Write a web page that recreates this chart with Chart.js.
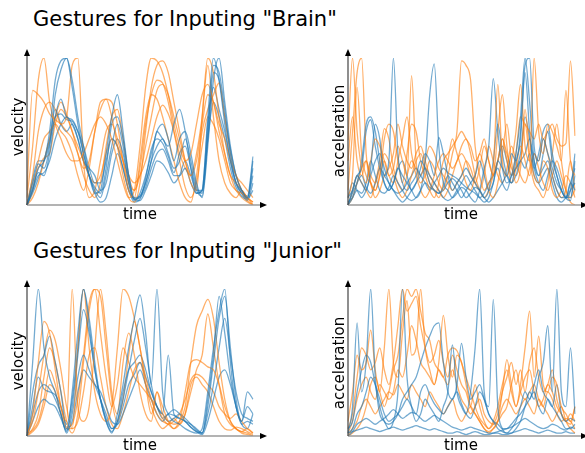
<!DOCTYPE html>
<html><head><meta charset="utf-8">
<script src="https://cdn.jsdelivr.net/npm/chart.js@4/dist/chart.umd.min.js"></script>
<style>
html,body{margin:0;padding:0;background:#fff;width:585px;height:453px;overflow:hidden;font-family:"DejaVu Sans",Verdana,sans-serif;}
canvas{position:absolute;}
.t{position:absolute;font-size:21px;color:#000;white-space:nowrap;line-height:1;}
.lx{position:absolute;font-size:15px;color:#000;white-space:nowrap;line-height:1;transform:translate(-50%,-50%);}
.ly{position:absolute;font-size:15px;color:#000;white-space:nowrap;line-height:1;transform:translate(-50%,-50%) rotate(-90deg);}
</style></head><body>
<div class="t" style="left:33px;top:9px;">Gestures for Inputing "Brain"</div>
<div class="t" style="left:33px;top:241px;">Gestures for Inputing "Junior"</div>
<canvas id="c1" width="290" height="185" style="left:0;top:40px"></canvas>
<canvas id="c2" width="285" height="185" style="left:300px;top:40px"></canvas>
<canvas id="c3" width="290" height="185" style="left:0;top:270px"></canvas>
<canvas id="c4" width="285" height="185" style="left:300px;top:270px"></canvas>
<div class="ly" style="left:18px;top:127px">velocity</div>
<div class="lx" style="left:140px;top:214px">time</div>
<div class="ly" style="left:339px;top:131px">acceleration</div>
<div class="lx" style="left:461px;top:214px">time</div>
<div class="ly" style="left:18px;top:361px">velocity</div>
<div class="lx" style="left:140px;top:445px">time</div>
<div class="ly" style="left:339px;top:363px">acceleration</div>
<div class="lx" style="left:461px;top:445px">time</div>
<script>
// ---- data (normalised magnitude) ----
const brainVelocityBlue = [
 [0,0.1,0.25,0.3,0.5,0.85,0.98,1.0,0.85,0.6,0.4,0.2,0.08,0.1,0.35,0.6,0.75,0.5,0.2,0.04,0.06,0.15,0.3,0.5,0.45,0.4,0.55,0.65,0.5,0.25,0.08,0.1,0.6,1.0,0.85,0.55,0.3,0.15,0.1,0.04,0.3],
 [0,0.12,0.22,0.2,0.35,0.6,0.72,0.6,0.58,0.5,0.35,0.2,0.1,0.05,0.2,0.4,0.55,0.4,0.15,0.03,0.08,0.2,0.35,0.5,0.55,0.45,0.3,0.45,0.5,0.35,0.15,0.05,0.4,0.85,1.0,0.7,0.4,0.2,0.1,0.05,0.2],
 [0,0.15,0.28,0.25,0.4,0.75,0.92,1.0,0.8,0.55,0.35,0.2,0.12,0.08,0.25,0.55,0.6,0.45,0.2,0.05,0.06,0.15,0.3,0.4,0.45,0.35,0.25,0.3,0.45,0.3,0.12,0.08,0.5,0.95,0.9,0.65,0.35,0.15,0.08,0.03,0.15],
 [0,0.1,0.2,0.22,0.3,0.45,0.55,0.6,0.55,0.45,0.3,0.25,0.2,0.1,0.15,0.35,0.45,0.35,0.15,0.04,0.05,0.12,0.25,0.35,0.38,0.3,0.2,0.2,0.25,0.15,0.08,0.1,0.55,0.8,0.65,0.5,0.3,0.15,0.08,0.05,0.25],
 [0,0.18,0.3,0.3,0.42,0.6,0.62,0.58,0.57,0.5,0.4,0.25,0.15,0.15,0.3,0.45,0.4,0.25,0.1,0.02,0.04,0.18,0.38,0.45,0.42,0.33,0.22,0.35,0.4,0.25,0.1,0.06,0.45,0.9,0.85,0.6,0.38,0.2,0.1,0.06,0.33],
 [0,0.08,0.18,0.3,0.45,0.65,0.55,0.5,0.55,0.45,0.3,0.2,0.08,0.02,0.05,0.2,0.35,0.25,0.1,0.04,0.03,0.1,0.2,0.3,0.28,0.22,0.15,0.2,0.3,0.2,0.1,0.1,0.45,0.7,0.6,0.45,0.25,0.12,0.06,0.04,0.1]
];
const brainVelocityOrange = [
 [0.05,0.4,0.85,1.0,0.7,0.55,0.45,0.35,0.3,0.3,0.35,0.45,0.55,0.6,0.55,0.45,0.3,0.15,0.05,0.1,0.4,0.8,1.0,0.98,0.9,0.75,0.55,0.4,0.3,0.35,0.55,0.75,0.82,0.7,0.5,0.35,0.2,0.1,0.08,0.03,0.0],
 [0.1,0.78,0.75,0.7,0.62,0.58,0.55,0.5,0.45,0.35,0.25,0.3,0.5,0.65,0.72,0.6,0.4,0.2,0.05,0.02,0.15,0.5,0.8,0.95,0.98,0.9,0.7,0.5,0.3,0.15,0.1,0.6,1.0,0.9,0.6,0.35,0.2,0.15,0.1,0.05,0.02],
 [0.0,0.2,0.5,0.65,0.7,0.65,0.55,0.6,0.95,1.0,0.3,0.05,0.1,0.3,0.5,0.55,0.45,0.3,0.15,0.1,0.2,0.4,0.6,0.78,0.82,0.75,0.6,0.45,0.3,0.2,0.3,0.55,0.75,0.7,0.55,0.45,0.3,0.2,0.1,0.05,0.0],
 [0.0,0.1,0.3,0.45,0.5,0.55,0.5,0.45,0.35,0.2,0.1,0.25,0.5,0.7,0.72,0.7,0.55,0.3,0.1,0.05,0.3,0.6,0.75,0.72,0.6,0.45,0.3,0.15,0.05,0.02,0.2,0.5,0.65,0.75,0.83,0.6,0.35,0.2,0.15,0.1,0.05],
 [0.0,0.05,0.15,0.3,0.45,0.6,0.7,0.62,0.5,0.4,0.3,0.2,0.15,0.2,0.35,0.45,0.4,0.3,0.2,0.15,0.2,0.3,0.45,0.6,0.68,0.62,0.5,0.35,0.25,0.2,0.35,0.6,0.95,0.6,0.3,0.15,0.08,0.05,0.1,0.05,0.02],
 [0.0,0.15,0.25,0.32,0.35,0.55,0.65,0.6,0.5,0.35,0.2,0.1,0.05,0.15,0.4,0.6,0.65,0.45,0.2,0.1,0.25,0.55,0.75,0.85,0.83,0.7,0.5,0.3,0.12,0.05,0.15,0.4,0.6,0.55,0.45,0.3,0.15,0.1,0.05,0.02,0.0]
];
const brainAccelBlue = [
 [0.05,0.1,0.2,0.15,0.1,0.25,0.55,0.45,0.2,0.3,1.0,0.35,0.15,0.1,0.15,0.2,0.3,0.25,0.15,0.1,0.08,0.12,0.2,0.15,0.1,0.05,0.1,0.15,0.2,0.3,0.2,0.1,0.15,0.3,0.25,0.2,0.35,0.3,0.5,0.95,1.0,0.4,0.3,0.45,0.35,0.25,0.15,0.1,0.05,0.1,0.35],
 [0.0,0.05,0.15,0.3,0.55,0.6,0.5,0.3,0.15,0.1,0.15,0.25,0.2,0.15,0.1,0.05,0.1,0.3,0.75,0.96,0.4,0.15,0.1,0.05,0.08,0.12,0.1,0.05,0.02,0.1,0.25,0.4,0.86,0.5,0.25,0.15,0.2,0.35,0.6,1.0,0.7,0.3,0.2,0.35,0.5,0.3,0.2,0.1,0.05,0.05,0.2],
 [0.0,0.1,0.2,0.25,0.5,0.58,0.4,0.25,0.15,0.1,0.15,0.25,0.3,0.2,0.1,0.15,0.25,0.35,0.3,0.2,0.46,0.35,0.2,0.1,0.15,0.2,0.25,0.2,0.15,0.1,0.05,0.1,0.3,0.55,0.35,0.2,0.15,0.3,0.45,0.9,0.5,0.25,0.35,0.5,0.55,0.35,0.2,0.1,0.05,0.15,0.25],
 [0.02,0.05,0.1,0.08,0.15,0.3,0.2,0.1,0.08,0.12,0.2,0.15,0.1,0.05,0.03,0.05,0.1,0.15,0.12,0.1,0.08,0.1,0.15,0.18,0.15,0.1,0.05,0.08,0.12,0.1,0.05,0.02,0.05,0.1,0.15,0.2,0.15,0.2,0.3,0.25,0.35,0.2,0.15,0.2,0.25,0.15,0.05,0.02,0.05,0.1,0.15],
 [0.0,0.08,0.15,0.2,0.12,0.08,0.15,0.25,0.2,0.15,0.1,0.08,0.1,0.15,0.2,0.25,0.2,0.15,0.1,0.15,0.2,0.25,0.22,0.2,0.18,0.15,0.12,0.1,0.08,0.05,0.08,0.15,0.2,0.25,0.15,0.1,0.2,0.25,0.3,0.35,0.45,0.3,0.2,0.25,0.3,0.2,0.1,0.05,0.05,0.15,0.1],
 [0.05,0.15,0.1,0.05,0.1,0.2,0.3,0.35,0.25,0.15,0.1,0.05,0.02,0.05,0.1,0.15,0.2,0.25,0.2,0.15,0.1,0.05,0.03,0.05,0.1,0.15,0.2,0.15,0.1,0.05,0.02,0.05,0.15,0.3,0.4,0.3,0.2,0.25,0.35,0.6,0.45,0.25,0.15,0.1,0.2,0.3,0.25,0.15,0.05,0.03,0.3]
];
const brainAccelOrange = [
 [0.44,1.0,0.5,0.25,0.15,0.3,0.45,0.4,0.3,0.2,0.25,0.4,0.3,0.2,0.88,0.3,0.15,0.2,0.3,0.25,0.15,0.1,0.2,0.35,0.5,0.98,0.95,0.85,0.4,0.2,0.1,0.15,0.25,0.82,0.3,0.2,0.3,0.5,0.82,0.4,0.3,1.0,0.5,0.35,0.55,0.5,0.4,0.3,0.78,0.3,0.2],
 [0.1,0.5,0.9,1.0,0.35,0.15,0.1,0.2,0.45,0.55,0.5,0.3,0.15,0.35,0.55,0.5,0.3,0.2,0.1,0.05,0.15,0.3,0.35,0.4,0.45,0.5,0.45,0.4,0.3,0.35,0.45,0.3,0.2,0.5,0.75,0.4,0.2,0.35,0.6,0.55,0.5,0.45,0.55,0.45,0.5,0.55,0.45,0.4,0.42,0.98,0.47],
 [0.0,0.05,0.15,0.25,0.3,0.2,0.15,0.25,0.35,0.3,0.2,0.1,0.05,0.1,0.2,0.3,0.35,0.25,0.15,0.1,0.05,0.15,0.3,0.45,0.35,0.25,0.15,0.1,0.2,0.35,0.25,0.1,0.05,0.15,0.35,0.55,0.3,0.15,0.25,0.65,0.35,0.2,0.15,0.3,0.25,0.1,0.05,0.1,0.2,0.15,0.05],
 [0.05,0.2,0.8,0.35,0.2,0.15,0.1,0.2,0.3,0.2,0.15,0.3,0.45,0.6,0.35,0.2,0.1,0.05,0.1,0.2,0.3,0.35,0.3,0.25,0.3,0.4,0.45,0.35,0.2,0.1,0.05,0.1,0.2,0.3,0.45,0.3,0.15,0.25,0.4,0.3,0.2,0.35,0.25,0.15,0.1,0.2,0.3,0.2,0.1,0.05,0.1],
 [0.0,0.1,0.2,0.15,0.1,0.05,0.15,0.3,0.52,0.45,0.25,0.15,0.1,0.2,0.3,0.25,0.2,0.3,0.4,0.35,0.25,0.2,0.15,0.1,0.15,0.2,0.3,0.25,0.15,0.1,0.2,0.4,0.3,0.2,0.15,0.25,0.4,0.3,0.2,0.15,0.25,0.35,0.3,0.45,0.35,0.2,0.1,0.05,0.1,0.3,0.1],
 [0.3,0.6,0.3,0.2,0.3,0.15,0.05,0.1,0.2,0.25,0.35,0.55,0.4,0.3,0.25,0.35,0.4,0.3,0.2,0.15,0.1,0.05,0.1,0.2,0.3,0.35,0.3,0.2,0.15,0.25,0.4,0.3,0.2,0.3,0.45,0.35,0.25,0.2,0.3,0.55,0.3,0.15,0.1,0.05,0.15,0.35,0.55,0.3,0.1,0.02,0.0]
];
const juniorVelocityBlue = [
 [0,0.5,1.0,0.6,0.4,0.3,0.15,0.03,0.3,0.7,1.0,0.8,0.5,0.25,0.1,0.02,0.15,0.35,0.6,0.8,0.96,0.7,0.35,1.0,0.3,0.15,0.1,0.08,0.05,0.03,0.02,0.05,0.3,0.6,0.85,1.0,0.5,0.2,0.1,0.2,0.15],
 [0,0.3,0.48,0.55,0.68,0.5,0.3,0.05,0.2,0.55,0.86,0.7,0.45,0.25,0.1,0.03,0.1,0.25,0.45,0.65,0.8,0.6,0.35,0.2,0.15,0.55,0.15,0.12,0.1,0.08,0.05,0.02,0.2,0.5,0.8,0.95,0.6,0.25,0.1,0.3,0.25],
 [0,0.15,0.3,0.35,0.32,0.25,0.15,0.02,0.15,0.4,0.55,0.45,0.35,0.25,0.15,0.05,0.1,0.3,0.45,0.5,0.55,0.45,0.3,0.2,0.15,0.1,0.12,0.15,0.12,0.08,0.04,0.02,0.15,0.35,0.6,0.8,0.55,0.3,0.15,0.12,0.1],
 [0,0.1,0.2,0.25,0.22,0.2,0.12,0.04,0.1,0.3,0.45,0.4,0.35,0.3,0.2,0.1,0.08,0.15,0.25,0.35,0.45,0.35,0.25,0.15,0.1,0.15,0.14,0.12,0.1,0.06,0.03,0.01,0.1,0.25,0.4,0.45,0.35,0.2,0.08,0.05,0.15],
 [0,0.2,0.4,0.32,0.3,0.28,0.2,0.08,0.25,0.6,1.0,0.75,0.45,0.25,0.12,0.05,0.08,0.2,0.35,0.42,0.5,0.4,0.3,0.2,0.12,0.15,0.18,0.15,0.1,0.06,0.03,0.02,0.25,0.55,0.95,0.7,0.4,0.2,0.08,0.1,0.08]
];
const juniorVelocityOrange = [
 [0,0.15,0.5,0.78,0.7,0.45,0.2,0.1,1.0,0.2,0.1,0.2,0.6,1.0,0.7,0.3,0.15,0.5,0.7,0.55,0.3,0.15,0.1,0.3,0.15,0.1,0.08,0.1,0.3,0.5,0.52,0.5,0.47,0.45,0.35,0.2,0.1,0.05,0.03,0.05,0.02],
 [0.02,0.1,0.3,0.55,0.72,0.65,0.45,0.2,0.05,0.6,1.0,0.6,0.3,0.15,0.1,0.2,0.6,1.0,0.95,0.8,0.6,0.4,0.25,0.15,0.1,0.08,0.05,0.1,0.2,0.5,0.75,0.85,0.93,0.8,0.5,0.25,0.1,0.05,0.03,0.02,0.0],
 [0,0.05,0.15,0.4,0.6,0.5,0.3,0.1,0.02,0.15,0.5,0.85,1.0,0.95,0.6,0.25,0.1,0.25,0.55,0.78,0.6,0.35,0.15,0.3,0.2,0.1,0.05,0.08,0.15,0.3,0.45,0.55,0.83,0.6,0.35,0.15,0.08,0.05,0.02,0.01,0.0],
 [0.02,0.04,0.1,0.25,0.45,0.35,0.2,0.06,0.08,0.25,0.55,0.9,1.0,0.7,0.4,0.2,0.35,0.6,0.5,0.4,0.35,0.3,0.25,0.2,0.12,0.08,0.1,0.15,0.25,0.38,0.42,0.4,0.35,0.3,0.2,0.15,0.12,0.15,0.1,0.05,0.02],
 [0,0.03,0.08,0.2,0.35,0.3,0.15,0.05,0.05,0.1,0.3,0.55,0.6,0.4,0.2,0.08,0.05,0.15,0.3,0.45,0.5,0.35,0.2,0.1,0.05,0.08,0.12,0.08,0.15,0.35,0.4,0.35,0.3,0.2,0.1,0.05,0.04,0.06,0.05,0.03,0.01]
];
const juniorAccelBlue = [
 [0.02,0.2,0.77,0.3,0.5,1.0,0.4,0.15,0.1,0.05,0.1,0.3,1.0,0.4,0.2,0.1,0.15,0.25,0.2,0.15,0.1,0.2,0.3,0.62,0.3,0.2,0.15,0.3,0.6,1.0,0.3,0.2,0.93,0.2,0.05,0.02,0.02,0.05,0.1,0.2,0.3,0.25,0.4,0.5,0.75,0.3,1.0,0.3,0.2,0.6,0.15],
 [0.05,0.1,0.3,0.45,0.55,0.5,0.35,0.2,0.1,0.08,0.1,0.15,0.25,0.3,0.35,0.4,0.5,0.6,0.68,0.75,0.77,0.5,0.3,0.25,0.35,0.63,0.4,0.25,0.3,0.35,0.25,0.15,0.1,0.05,0.03,0.02,0.05,0.1,0.2,0.3,0.25,0.35,0.45,0.3,0.25,0.2,0.35,0.15,0.1,0.12,0.1],
 [0.02,0.05,0.15,0.2,0.3,0.4,0.35,0.25,0.15,0.1,0.12,0.15,0.2,0.25,0.2,0.15,0.3,0.35,0.28,0.22,0.18,0.15,0.2,0.25,0.3,0.22,0.15,0.12,0.2,0.3,0.25,0.15,0.1,0.08,0.05,0.05,0.08,0.12,0.15,0.2,0.25,0.3,0.2,0.15,0.25,0.2,0.15,0.1,0.05,0.05,0.08],
 [0.0,0.03,0.08,0.1,0.12,0.1,0.08,0.1,0.12,0.15,0.18,0.15,0.12,0.14,0.16,0.15,0.12,0.1,0.12,0.14,0.12,0.1,0.08,0.06,0.05,0.04,0.05,0.06,0.05,0.04,0.03,0.02,0.02,0.03,0.04,0.05,0.06,0.08,0.1,0.12,0.1,0.08,0.06,0.05,0.06,0.08,0.07,0.05,0.04,0.06,0.05],
 [0.02,0.03,0.04,0.05,0.06,0.05,0.04,0.03,0.04,0.05,0.06,0.05,0.04,0.05,0.06,0.07,0.06,0.05,0.04,0.05,0.04,0.03,0.02,0.02,0.03,0.02,0.01,0.02,0.03,0.02,0.01,0.01,0.02,0.02,0.01,0.01,0.02,0.03,0.04,0.05,0.04,0.03,0.02,0.03,0.04,0.03,0.02,0.02,0.03,0.02,0.02]
];
const juniorAccelOrange = [
 [0.1,0.3,0.55,0.45,0.5,0.72,0.45,0.3,0.6,1.0,0.5,0.4,0.7,0.92,0.55,0.6,1.0,0.6,0.45,0.35,0.5,0.82,0.55,0.4,0.55,0.5,0.35,0.2,0.15,0.1,0.05,0.03,0.05,0.1,0.3,0.52,0.35,0.2,0.35,0.6,0.85,0.4,0.68,0.35,0.3,0.4,0.35,0.2,0.15,0.1,0.2],
 [0.05,0.15,0.4,0.6,0.55,0.45,0.5,0.6,0.45,0.35,0.5,0.75,1.0,0.85,0.9,0.95,0.75,0.6,0.5,0.55,0.65,0.5,0.4,0.55,0.45,0.35,0.3,0.2,0.35,0.2,0.1,0.05,0.08,0.15,0.3,0.4,0.5,0.35,0.45,0.3,0.5,0.6,0.4,0.3,0.35,0.45,0.25,0.15,0.1,0.08,0.2],
 [0.02,0.1,0.25,0.35,0.4,0.3,0.25,0.35,0.3,0.25,0.3,0.45,0.4,0.55,0.75,0.65,0.5,0.45,0.4,0.35,0.45,0.4,0.35,0.45,0.35,0.25,0.2,0.15,0.2,0.25,0.15,0.1,0.08,0.1,0.15,0.2,0.35,0.45,0.3,0.25,0.3,0.35,0.25,0.2,0.3,0.25,0.15,0.1,0.12,0.1,0.05],
 [0.0,0.05,0.1,0.2,0.25,0.2,0.15,0.2,0.25,0.3,0.28,0.35,0.3,0.25,0.35,0.3,0.25,0.2,0.3,0.25,0.2,0.15,0.2,0.25,0.15,0.1,0.15,0.2,0.15,0.1,0.05,0.02,0.05,0.1,0.2,0.25,0.2,0.15,0.2,0.25,0.2,0.15,0.25,0.2,0.15,0.1,0.15,0.2,0.1,0.05,0.02],
 [0.0,0.02,0.05,0.1,0.2,0.35,0.4,0.3,0.2,0.3,0.45,0.55,0.8,1.0,0.95,1.0,0.85,0.7,0.65,0.5,0.45,0.4,0.55,0.6,0.58,0.5,0.4,0.3,0.2,0.12,0.08,0.05,0.1,0.2,0.35,0.45,0.3,0.2,0.3,0.4,0.45,0.3,0.2,0.25,0.35,0.3,0.2,0.15,0.1,0.15,0.1]
];

// ---- styling ----
const BLUE = 'rgba(31,119,180,0.62)';
const ORANGE = 'rgba(255,127,14,0.62)';

const axesArrows = {
  id: 'axesArrows',
  afterDatasetsDraw(chart, args, opts) {
    const {ctx, chartArea: a} = chart;
    const x0 = a.left, y0 = a.bottom;
    ctx.save();
    ctx.strokeStyle = '#9a9a9a'; ctx.lineWidth = 1.6;
    ctx.beginPath(); ctx.moveTo(x0, y0); ctx.lineTo(x0 + opts.xLen - 5, y0); ctx.stroke();
    ctx.strokeStyle = '#444'; ctx.lineWidth = 1.2;
    ctx.beginPath(); ctx.moveTo(x0, y0); ctx.lineTo(x0, y0 - opts.yLen + 5); ctx.stroke();
    ctx.fillStyle = '#000';
    ctx.beginPath(); ctx.moveTo(x0 + opts.xLen, y0); ctx.lineTo(x0 + opts.xLen - 7, y0 - 3); ctx.lineTo(x0 + opts.xLen - 7, y0 + 3); ctx.closePath(); ctx.fill();
    ctx.beginPath(); ctx.moveTo(x0, y0 - opts.yLen); ctx.lineTo(x0 - 3, y0 - opts.yLen + 7); ctx.lineTo(x0 + 3, y0 - opts.yLen + 7); ctx.closePath(); ctx.fill();
    ctx.restore();
  }
};

function makeChart(id, blue, orange, pad, xLen, yLen) {
  const n = blue[0].length;
  const timeSteps = Array.from({length: n}, (_, i) => i);
  const datasets = [];
  const m = Math.max(blue.length, orange.length);
  for (let k = 0; k < m; k++) {
    if (blue[k]) datasets.push({data: blue[k], borderColor: BLUE});
    if (orange[k]) datasets.push({data: orange[k], borderColor: ORANGE});
  }
  datasets.forEach(d => { d.borderWidth = 1.3; d.pointRadius = 0; d.fill = false; d.cubicInterpolationMode = 'monotone'; });
  new Chart(document.getElementById(id), {
    type: 'line',
    data: {labels: timeSteps, datasets},
    options: {
      responsive: false, animation: false, devicePixelRatio: 1,
      layout: {padding: pad},
      plugins: {legend: {display: false}, tooltip: {enabled: false}, title: {display: false}, axesArrows: {xLen, yLen}},
      scales: {
        x: {type: 'category', display: false, offset: false},
        y: {display: false, min: 0, max: 1}
      }
    },
    plugins: [axesArrows]
  });
}

makeChart('c1', brainVelocityBlue, brainVelocityOrange, {left: 27, right: 37, top: 18, bottom: 20}, 240, 156);
makeChart('c2', brainAccelBlue, brainAccelOrange, {left: 48, right: 10, top: 18, bottom: 20}, 240, 156);
makeChart('c3', juniorVelocityBlue, juniorVelocityOrange, {left: 27, right: 37, top: 19, bottom: 19}, 240, 156);
makeChart('c4', juniorAccelBlue, juniorAccelOrange, {left: 48, right: 10, top: 19, bottom: 19}, 240, 156);
</script>
</body></html>
